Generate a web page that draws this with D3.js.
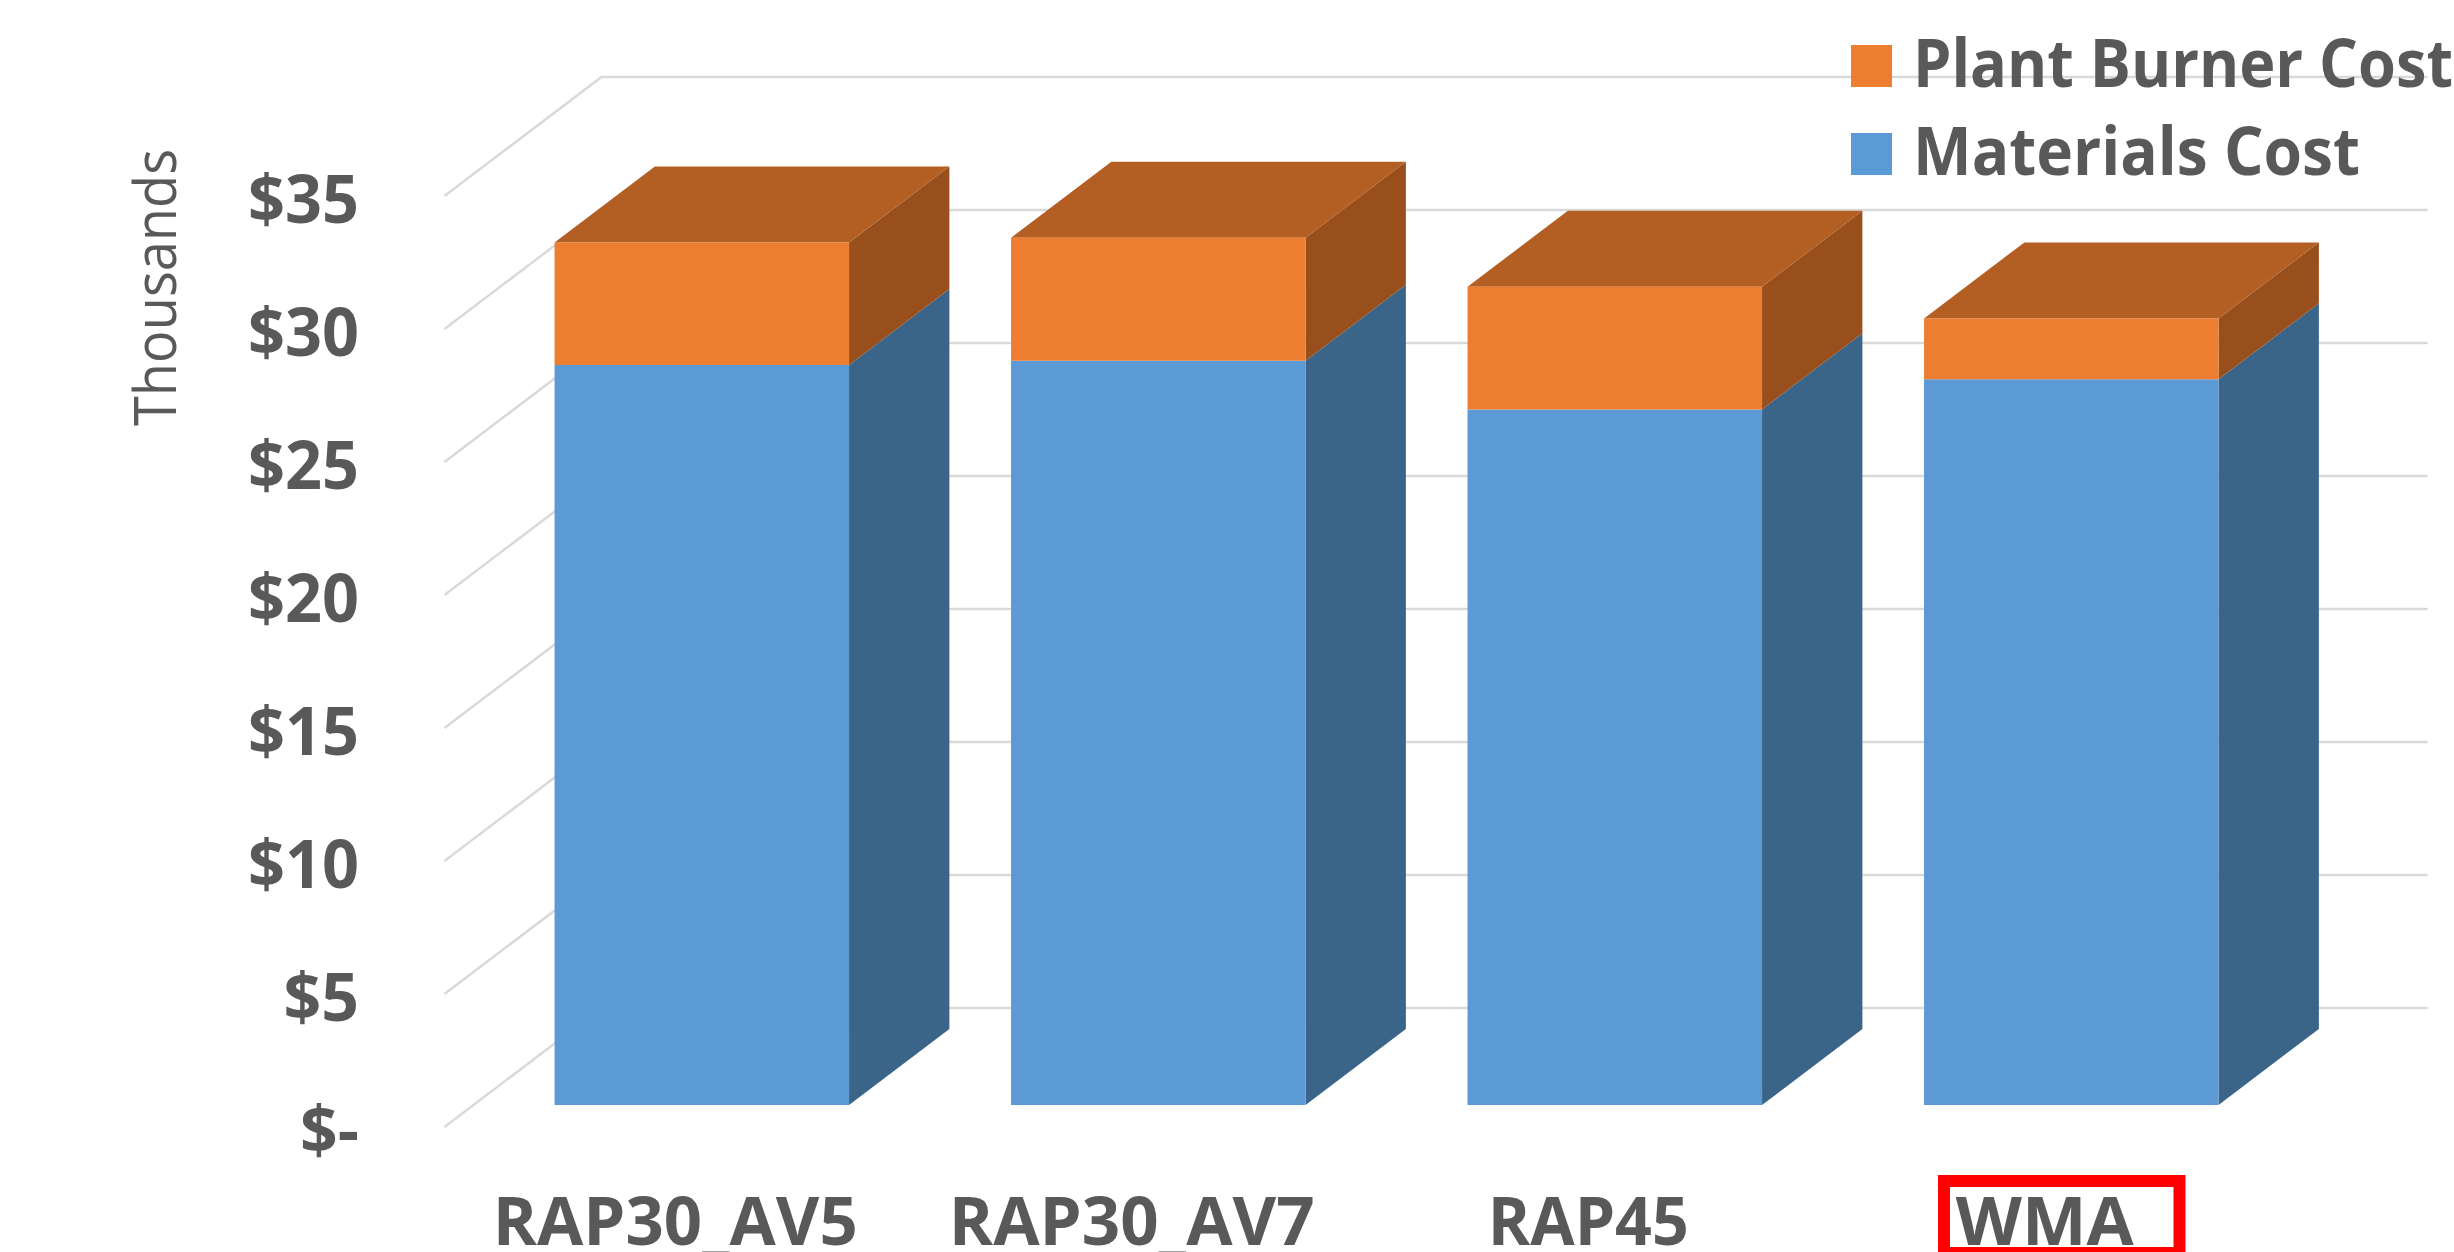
<!DOCTYPE html>
<html>
<head>
<meta charset="utf-8">
<script src="https://cdn.jsdelivr.net/npm/d3@7"></script>
<style>
  html, body { margin: 0; padding: 0; background: #fff; overflow: hidden; }
  svg { display: block; }
  text { font-family: "Open Sans", sans-serif; fill: #595959; }
</style>
</head>
<body>
<svg id="chart" width="2454" height="1252"></svg>
<script>
const categories = ["RAP30_AV5", "RAP30_AV7", "RAP45", "WMA"];
const materialsCost = [27.82, 27.98, 26.15, 27.28];
const plantBurnerCost = [4.60, 4.62, 4.61, 2.29];
const yTicks = [0, 5, 10, 15, 20, 25, 30, 35];
const legendItems = ["Plant Burner Cost", "Materials Cost"];

const width = 2454, height = 1252;
const svg = d3.select("#chart");

// Front plane of the oblique 3D box; the wall sits one full depth behind it.
const x = d3.scaleBand().domain(categories).range([444.5, 2270.5])
  .paddingInner(0.55 / 1.55).paddingOuter(0.275 / 1.55);
const y = d3.scaleLinear().domain([0, 35]).range([1127, 196]);
const depthX = 157, depthY = -119;
const barFront = 0.185, barBack = 0.824;

const gridColor = "#d9d9d9";
const grid = svg.append("g").attr("fill", "none").attr("stroke", gridColor).attr("stroke-width", 2.4);
grid.selectAll("path").data(yTicks).join("path")
  .attr("d", v => {
    const p = d3.path();
    p.moveTo(x.range()[0], y(v));
    p.lineTo(x.range()[0] + depthX, y(v) + depthY);
    p.lineTo(x.range()[1] + depthX, y(v) + depthY);
    return p.toString();
  });

// A point on a bar: horizontal position, value height, and depth fraction.
const pt = (px, v, d) => [px + d * depthX, y(v) + d * depthY];
const poly = pts => {
  const p = d3.path();
  pts.forEach((c, i) => i ? p.lineTo(c[0], c[1]) : p.moveTo(c[0], c[1]));
  p.closePath();
  return p.toString();
};

const palette = {
  materials: { front: "#5c9ad6", side: "#3a6488" },
  plant: { front: "#ed7d31", side: "#984f1c", top: "#b35e22" }
};

const bars = svg.append("g").selectAll("g").data(categories).join("g");
bars.each(function (c, i) {
  const g = d3.select(this);
  const l = x(c), r = l + x.bandwidth();
  const m = materialsCost[i], t = m + plantBurnerCost[i];
  const face = (pts, fill) => g.append("path").attr("d", poly(pts)).attr("fill", fill);
  face([pt(r, 0, barFront), pt(r, 0, barBack), pt(r, m, barBack), pt(r, m, barFront)], palette.materials.side);
  face([pt(r, m, barFront), pt(r, m, barBack), pt(r, t, barBack), pt(r, t, barFront)], palette.plant.side);
  face([pt(l, t, barFront), pt(r, t, barFront), pt(r, t, barBack), pt(l, t, barBack)], palette.plant.top);
  face([pt(l, 0, barFront), pt(r, 0, barFront), pt(r, m, barFront), pt(l, m, barFront)], palette.materials.front);
  face([pt(l, m, barFront), pt(r, m, barFront), pt(r, t, barFront), pt(l, t, barFront)], palette.plant.front);
});

// Value axis: labels only, no line or tick marks.
const yAxis = d3.axisLeft(y).tickValues(yTicks).tickSize(0)
  .tickFormat(v => v === 0 ? "$-" : "$" + v);
const yG = svg.append("g").attr("transform", "translate(359,0)").call(yAxis);
yG.select(".domain").remove();
yG.selectAll("text")
  .attr("x", 0).attr("dy", 26)
  .attr("font-size", 66).attr("font-weight", 700).style("font-family", '"Open Sans", sans-serif')
  .style("fill", "#595959")
  .attr("textLength", v => v >= 10 ? 111 : null)
  .attr("lengthAdjust", "spacingAndGlyphs");

svg.append("text")
  .attr("transform", "translate(176,426) rotate(-90)")
  .attr("font-size", 59)
  .attr("textLength", 277).attr("lengthAdjust", "spacingAndGlyphs")
  .text("Thousands");

// Category axis, with its labels set to fixed run lengths under each bar.
const categoryLabelLengths = [365, 366, 201, 178];
const xAxis = d3.axisBottom(x).tickSize(0);
const xG = svg.append("g").attr("transform", "translate(2.5,0)").call(xAxis);
xG.select(".domain").remove();
xG.selectAll("text")
  .attr("y", 1245).attr("dy", 0)
  .attr("font-size", 66).attr("font-weight", 700).style("font-family", '"Open Sans", sans-serif')
  .style("fill", "#595959")
  .attr("textLength", (d, i) => categoryLabelLengths[i])
  .attr("lengthAdjust", "spacingAndGlyphs");

// Box around the WMA label.
svg.append("rect")
  .attr("x", 1944).attr("y", 1181).attr("width", 235.5).attr("height", 72)
  .attr("fill", "none").attr("stroke", "#ff0000").attr("stroke-width", 12);

// Legend
const legendColors = ["#ed7d31", "#5b9bd5"];
const legendBaselines = [87, 175];
const legendLengths = [540, 447];
const legend = svg.append("g");
legendItems.forEach((name, i) => {
  legend.append("rect")
    .attr("x", 1851).attr("y", legendBaselines[i] - 42)
    .attr("width", 41).attr("height", 42).attr("fill", legendColors[i]);
  legend.append("text")
    .attr("x", 1913).attr("y", legendBaselines[i])
    .attr("font-size", 66).attr("font-weight", 700)
    .attr("textLength", legendLengths[i]).attr("lengthAdjust", "spacingAndGlyphs")
    .text(name);
});
</script>
</body>
</html>
